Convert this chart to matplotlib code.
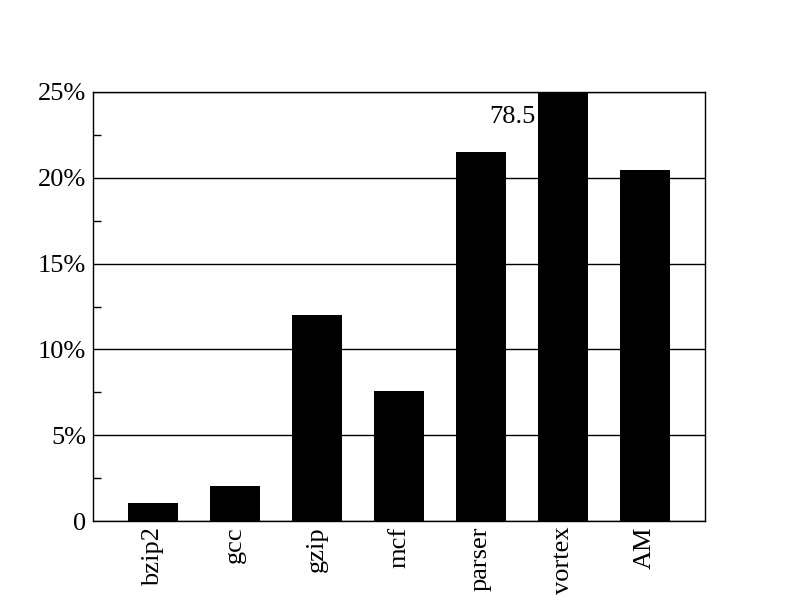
import numpy as np
import matplotlib; matplotlib.use("Agg")
import matplotlib.pyplot as plt
from matplotlib.ticker import MultipleLocator, FuncFormatter

benchmarks = ["bzip2", "gcc", "gzip", "mcf", "parser", "vortex", "AM"]
values = [1.05, 2.05, 12.0, 7.6, 21.5, 78.5, 20.45]
ymax = 25

plt.rcParams["font.family"] = ["Liberation Serif", "DejaVu Serif"]
fig = plt.figure(figsize=(7.92, 6.12), dpi=100)
ax = fig.add_axes([93 / 792, 1 - 521 / 612, 612 / 792, 429 / 612])

x = np.arange(len(benchmarks))
ax.bar(x, values, width=0.6, color="black", zorder=3)
ax.set_xlim(-0.732, len(benchmarks) - 1 + 0.732)
ax.set_ylim(0, ymax)

# clipped bar gets its value written beside it
for xi, v in zip(x, values):
    if v > ymax:
        ax.text(xi - 0.33, ymax * 0.968, f"{v}", ha="right", va="top", fontsize=19)

ax.yaxis.set_major_locator(MultipleLocator(5))
ax.yaxis.set_minor_locator(MultipleLocator(2.5))
ax.yaxis.set_major_formatter(FuncFormatter(lambda v, p: "0" if v == 0 else f"{v:.0f}%"))
ax.grid(axis="y", which="major", color="black", lw=1, zorder=1)
ax.tick_params(axis="y", which="major", length=0, labelsize=19, pad=5)
ax.tick_params(axis="y", which="minor", direction="in", length=6, width=1)
ax.set_xticks(x)
ax.set_xticklabels(benchmarks, rotation=90, fontsize=19)
ax.tick_params(axis="x", length=0, pad=4)
for s in ax.spines.values():
    s.set_linewidth(1)
    s.set_zorder(4)

fig.savefig("out.png", dpi=100)
